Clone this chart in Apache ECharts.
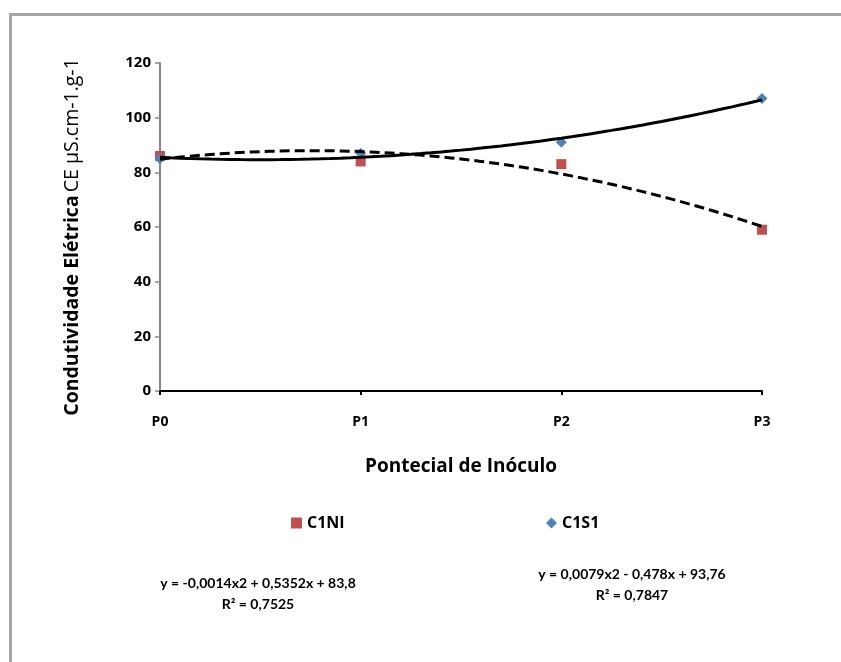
<!DOCTYPE html>
<html>
<head>
<meta charset="utf-8">
<script src="https://cdn.jsdelivr.net/npm/echarts@6/dist/echarts.min.js"></script>
<style>
  html, body { margin: 0; padding: 0; background: #fff; }
  #frame {
    position: absolute; left: 9px; top: 13px; width: 900px; height: 700px;
    border-left: 3px solid #a6a6a6; border-top: 3px solid #a6a6a6;
  }
  #chart { position: absolute; left: 0; top: 0; width: 841px; height: 662px; }
</style>
</head>
<body>
<div id="frame"></div>
<div id="chart"></div>
<script>
// dados
const categorias = ['P0', 'P1', 'P2', 'P3'];
const c1ni = [86, 84, 83, 59];
const c1s1 = [85, 87, 91, 107];
const yTicks = [0, 20, 40, 60, 80, 100, 120];
const eqC1NI = ['y = -0,0014x2 + 0,5352x + 83,8', 'R² = 0,7525'];
const eqC1S1 = ['y = 0,0079x2 - 0,478x + 93,76', 'R² = 0,7847'];

const FONT = '"Open Sans", Lato, sans-serif';
const FONT_EQ = 'Lato, "Open Sans", sans-serif';

// linha de tendência polinomial (2ª ordem) por mínimos quadrados
function quadFit(ys) {
  let sx = [0, 0, 0, 0, 0], sxy = [0, 0, 0];
  ys.forEach((y, x) => {
    for (let k = 0; k <= 4; k++) sx[k] += Math.pow(x, k);
    for (let k = 0; k <= 2; k++) sxy[k] += y * Math.pow(x, k);
  });
  // resolve sistema 3x3 (Cramer)
  const A = [[sx[0], sx[1], sx[2]], [sx[1], sx[2], sx[3]], [sx[2], sx[3], sx[4]]];
  const det = m => m[0][0] * (m[1][1] * m[2][2] - m[1][2] * m[2][1])
                 - m[0][1] * (m[1][0] * m[2][2] - m[1][2] * m[2][0])
                 + m[0][2] * (m[1][0] * m[2][1] - m[1][1] * m[2][0]);
  const D = det(A);
  const coef = [0, 1, 2].map(c => {
    const M = A.map((row, r) => row.map((v, j) => (j === c ? sxy[r] : v)));
    return det(M) / D;
  });
  const pts = [];
  for (let i = 0; i <= 60; i++) {
    const x = i * (ys.length - 1) / 60;
    pts.push([x, coef[0] + coef[1] * x + coef[2] * x * x]);
  }
  return pts;
}

const chart = echarts.init(document.getElementById('chart'));

chart.setOption({
  animation: false,
  textStyle: { fontFamily: FONT },
  grid: { left: 160, right: 79, top: 63, bottom: 271 },
  xAxis: {
    type: 'value', min: 0, max: categorias.length - 1, interval: 1,
    name: 'Pontecial de Inóculo', nameLocation: 'middle', nameGap: 66,
    nameTextStyle: { fontSize: 19, fontWeight: 'bold', color: '#000', fontFamily: FONT },
    splitLine: { show: false },
    axisLine: { lineStyle: { color: '#000', width: 2 } },
    axisTick: { lineStyle: { color: '#000', width: 2 }, length: 4 },
    axisLabel: {
      formatter: v => categorias[v], margin: 24,
      fontSize: 14, fontWeight: 'bold', color: '#000', fontFamily: FONT
    }
  },
  yAxis: {
    type: 'value', min: yTicks[0], max: yTicks[yTicks.length - 1], interval: 20,
    name: '{b|Condutividade Elétrica} {n|CE μS.cm-1.g-1}',
    nameLocation: 'middle', nameRotate: 90, nameGap: 78,
    nameTextStyle: {
      padding: [0, 20, 0, 0],
      rich: {
        b: { fontSize: 19.5, fontWeight: 'bold', color: '#000', fontFamily: FONT },
        n: { fontSize: 19.5, color: '#000', fontFamily: FONT }
      }
    },
    splitLine: { show: false },
    axisLine: { show: true, lineStyle: { color: '#868686', width: 2 } },
    axisTick: { show: true, lineStyle: { color: '#868686', width: 1.5 }, length: 5 },
    axisLabel: { fontSize: 15, fontWeight: 'bold', color: '#000', margin: 9, fontFamily: FONT }
  },
  legend: [
    {
      data: [{ name: 'C1NI', icon: 'rect' }], left: 286, top: 510,
      itemWidth: 11, itemHeight: 11, itemGap: 6,
      textStyle: { fontSize: 16, fontWeight: 'bold', color: '#000', fontFamily: FONT }
    },
    {
      data: [{ name: 'C1S1', icon: 'diamond' }], left: 541, top: 510,
      itemWidth: 11, itemHeight: 11, itemGap: 6,
      textStyle: { fontSize: 16, fontWeight: 'bold', color: '#000', fontFamily: FONT }
    }
  ],
  series: [
    {
      name: 'C1NI', type: 'scatter', symbol: 'rect', symbolSize: 10,
      itemStyle: { color: '#c0504d', opacity: 1 }, z: 2,
      data: c1ni.map((v, i) => [i, v])
    },
    {
      name: 'C1S1', type: 'scatter', symbol: 'diamond', symbolSize: 11,
      itemStyle: { color: '#4f81bd', opacity: 1 }, z: 2,
      data: c1s1.map((v, i) => [i, v])
    },
    {
      name: 'Tendência C1NI', type: 'line', showSymbol: false, z: 3,
      lineStyle: { color: '#000', width: 3, type: [10, 5] },
      data: quadFit(c1ni)
    },
    {
      name: 'Tendência C1S1', type: 'line', showSymbol: false, z: 3,
      lineStyle: { color: '#000', width: 3 },
      data: quadFit(c1s1)
    }
  ],
  graphic: [
    {
      type: 'text',
      style: {
        text: eqC1NI.join('\n'), x: 258, y: 573, align: 'center',
        font: 'bold 14px ' + FONT_EQ, fill: '#000', lineHeight: 21
      }
    },
    {
      type: 'text',
      style: {
        text: eqC1S1.join('\n'), x: 632, y: 564, align: 'center',
        font: 'bold 14px ' + FONT_EQ, fill: '#000', lineHeight: 21
      }
    }
  ]
});
</script>
</body>
</html>
